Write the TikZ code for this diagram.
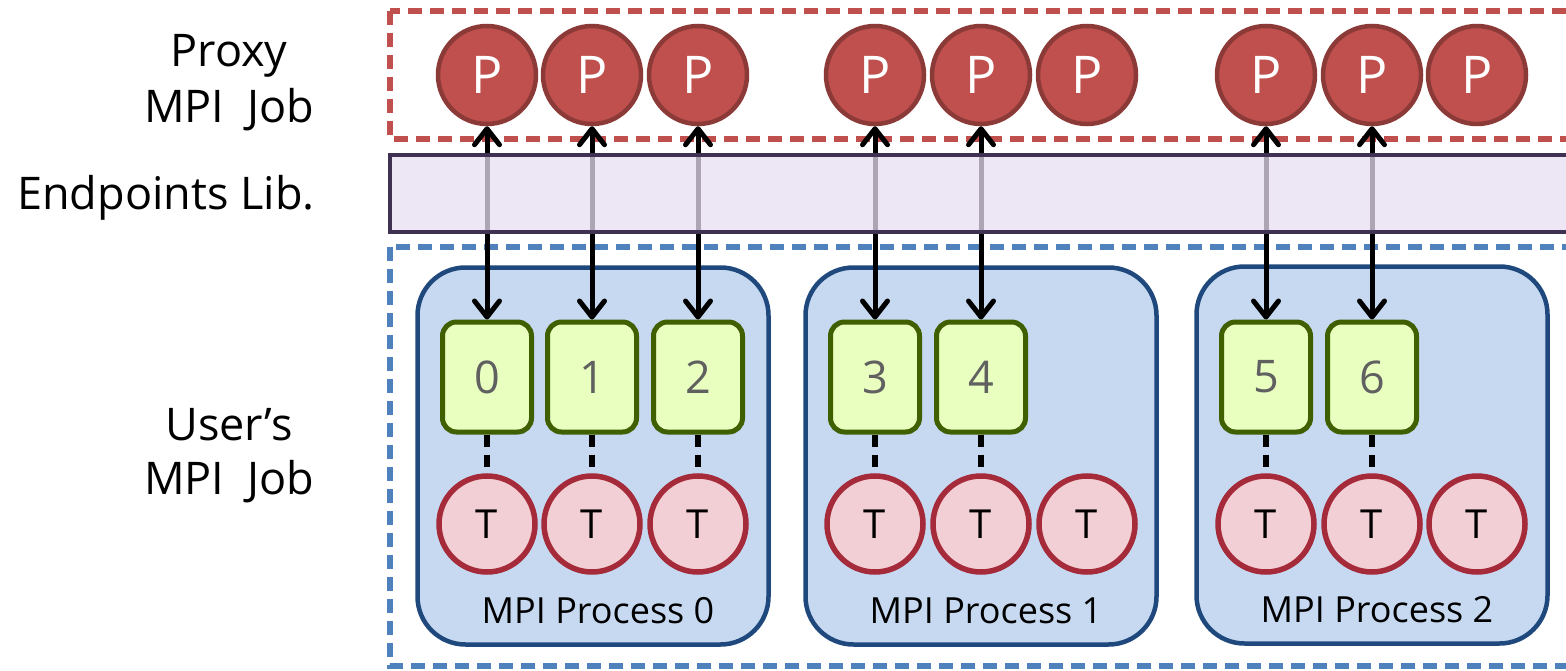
\documentclass[tikz,border=0pt]{standalone}
\usepackage{fontspec}
\setmainfont{Open Sans}
\usetikzlibrary{arrows.meta}

\definecolor{proxyfill}{HTML}{C0504D}
\definecolor{proxyline}{HTML}{8C3A38}
\definecolor{thrfill}{HTML}{F2CFD4}
\definecolor{thrline}{HTML}{A52B3A}
\definecolor{endfill}{HTML}{E9FFC0}
\definecolor{endline}{HTML}{3F5F00}
\definecolor{procfill}{HTML}{C6D9F1}
\definecolor{procline}{HTML}{1F497D}
\definecolor{reddash}{HTML}{C0504D}
\definecolor{bluedash}{HTML}{4F81BD}
\definecolor{libfill}{HTML}{E7DDF1}
\definecolor{libline}{HTML}{3F3151}
\definecolor{numgray}{HTML}{606060}

\newcommand{\fs}[1]{\fontsize{#1}{#1}\selectfont}

\begin{document}
\begin{tikzpicture}[x=1pt,y=-1pt,
  jobframe/.style={line width=5.5pt, dash pattern=on 14pt off 8pt},
  procbox/.style={draw=procline, fill=procfill, line width=4.5pt, rounded corners=48pt,
    minimum width=351pt, minimum height=377pt, inner sep=0pt},
  proclabel/.style={anchor=base, font=\fs{36}, inner sep=0pt},
  proxy/.style={circle, draw=proxyline, fill=proxyfill, line width=4.5pt,
    minimum size=98pt, inner sep=0pt, text=white, font=\fs{52}},
  thread/.style={circle, draw=thrline, fill=thrfill, line width=5.5pt,
    minimum size=96pt, inner sep=0pt, font=\fs{40}},
  endpt/.style={rectangle, draw=endline, fill=endfill, line width=5pt, rounded corners=14pt,
    minimum width=89pt, minimum height=110pt, inner sep=0pt, text=numgray, font=\fs{45}},
  bind/.style={line width=5.5pt, dash pattern=on 12pt off 8pt},
  barb/.tip={Straight Barb[length=16pt,width=25pt,line cap=round,line join=round]},
  link/.style={line width=5pt, barb-barb},
  sidelabel/.style={anchor=base, font=\fs{45}, inner sep=0pt}
]
\useasboundingbox (0,0) rectangle (1566,671);
\clip (0,0) rectangle (1566,671);

% job frames
\draw[jobframe, draw=reddash] (390,11) rectangle (1620,139);
\draw[jobframe, draw=bluedash] (390,247) rectangle (1620,666);

% MPI processes
\node[procbox] (proc0) at (593,456) {};
\node[procbox] (proc1) at (981,456) {};
\node[procbox] (proc2) at (1372,455) {};
\node[proclabel] (plab0) at (598,623) {MPI Process 0};
\node[proclabel] (plab1) at (986,623) {MPI Process 1};
\node[proclabel] (plab2) at (1377,622) {MPI Process 2};

% endpoints
\node[endpt] (e0) at (487,377) {0};
\node[endpt] (e1) at (592,377) {1};
\node[endpt] (e2) at (698,377) {2};
\node[endpt] (e3) at (875,377) {3};
\node[endpt] (e4) at (981,377) {4};
\node[endpt] (e5) at (1266,377) {5};
\node[endpt] (e6) at (1372,377) {6};

% threads
\foreach \i/\x in {1/487,2/592,3/698,4/875,5/981,6/1087,7/1266,8/1372,9/1477}
  \node[thread] (t\i) at (\x,524) {T};

% proxy processes
\foreach \i/\x in {1/487,2/592,3/698,4/875,5/981,6/1087,7/1266,8/1372,9/1477}
  \node[proxy] (p\i) at (\x,75) {P};

% thread-to-endpoint bindings
\draw[bind] (e0) -- (t1);
\draw[bind] (e1) -- (t2);
\draw[bind] (e2) -- (t3);
\draw[bind] (e3) -- (t4);
\draw[bind] (e4) -- (t5);
\draw[bind] (e5) -- (t7);
\draw[bind] (e6) -- (t8);

% endpoint-to-proxy links
\draw[link] (e0) -- (p1);
\draw[link] (e1) -- (p2);
\draw[link] (e2) -- (p3);
\draw[link] (e3) -- (p4);
\draw[link] (e4) -- (p5);
\draw[link] (e5) -- (p7);
\draw[link] (e6) -- (p8);

% endpoints library layer
\draw[draw=libline, fill=libfill, fill opacity=0.75, line width=4.5pt] (390,155) rectangle (1620,232);

% side labels
\node[sidelabel] (lproxy1) at (229,67) {Proxy};
\node[sidelabel] (lproxy2) at (229,123) {MPI\hspace{0.5em}Job};
\node[sidelabel] (llib) at (166,210) {Endpoints Lib.};
\node[sidelabel] (luser1) at (229,440) {User’s};
\node[sidelabel] (luser2) at (229,494) {MPI\hspace{0.5em}Job};
\end{tikzpicture}
\end{document}
